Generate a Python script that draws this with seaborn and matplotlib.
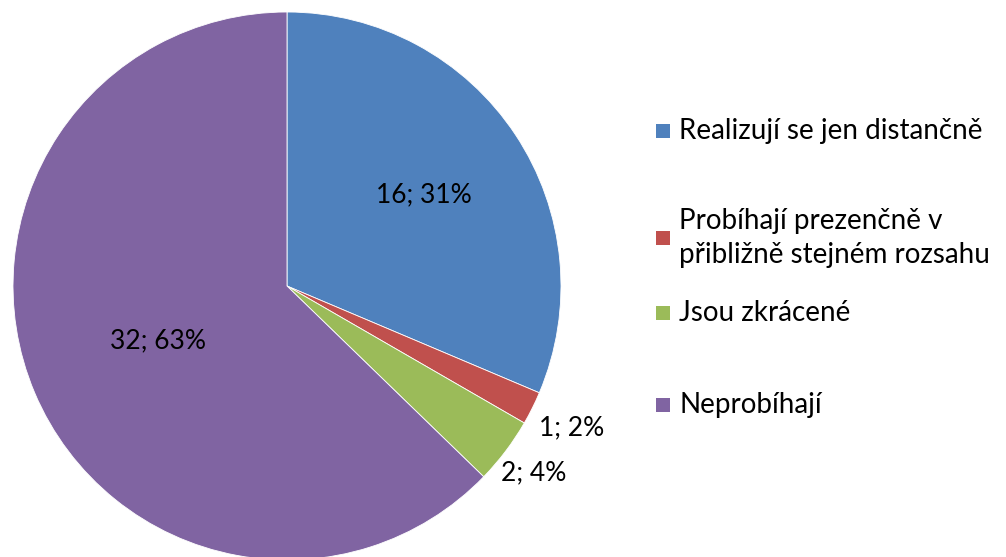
import numpy as np
import seaborn as sns
import matplotlib.pyplot as plt
from matplotlib.patches import Rectangle

sns.set_theme(style='white')
plt.rcParams['font.family'] = ['Lato', 'DejaVu Sans']

# Data
categories = ['Realizují se jen distančně',
              'Probíhají prezenčně v\npřibližně stejném rozsahu',
              'Jsou zkrácené',
              'Neprobíhají']
counts = [16, 1, 2, 32]
colors = ['#4F81BD', '#C0504D', '#9BBB59', '#8064A2']

fig = plt.figure(figsize=(10.06, 5.57), dpi=100)
ax = fig.add_axes([13 / 1006, -3 / 557, 548 / 1006, 548 / 557])

wedges, _ = ax.pie(counts, colors=colors, startangle=90, counterclock=False,
                   radius=1, wedgeprops={'linewidth': 0.6, 'edgecolor': 'white'})
ax.set_xlim(-1, 1)
ax.set_ylim(-1, 1)
ax.axis('off')

# Data labels: "value; pct%"
total = sum(counts)
label_r = [0.6, 1.16, 1.13, 0.51]
label_ha = ['center', 'left', 'left', 'center']
for w, c, r, ha in zip(wedges, counts, label_r, label_ha):
    mid = np.deg2rad((w.theta1 + w.theta2) / 2)
    x, y = r * np.cos(mid), r * np.sin(mid)
    if ha == 'left':
        x -= 0.12
    ax.text(x, y, f'{c}; {round(c / total * 100)}%', ha=ha, va='center',
            fontsize=19, color='black', clip_on=False)

# Legend drawn to the right
legend_y = [131, 238, 313, 405]
for lab, col, yy in zip(categories, colors, legend_y):
    fy = 1 - yy / 557
    fig.patches.append(Rectangle((656 / 1006, fy - 7 / 557), 14 / 1006, 14 / 557,
                                 transform=fig.transFigure, facecolor=col,
                                 edgecolor='none'))
    fig.text(679 / 1006, fy, lab, ha='left', va='center', fontsize=20,
             linespacing=1.42, color='black')

fig.savefig('out.png', dpi=100)
